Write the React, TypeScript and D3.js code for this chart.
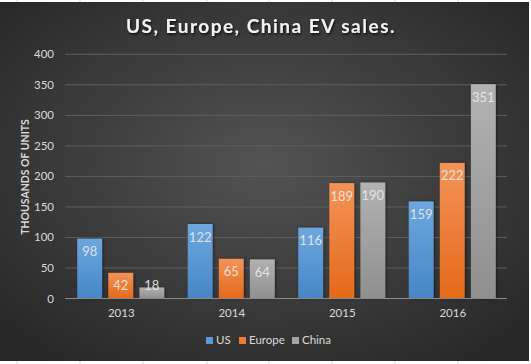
import React from 'react';
import * as d3 from 'd3';

const years = ['2013', '2014', '2015', '2016'];
const seriesNames = ['US', 'Europe', 'China'];
const usSales = [98, 122, 116, 159];
const europeSales = [42, 65, 189, 222];
const chinaSales = [18, 64, 190, 351];
const yTicks = [0, 50, 100, 150, 200, 250, 300, 350, 400];

const W = 531;
const H = 364;
const font = "Lato, 'Open Sans', 'Liberation Sans', sans-serif";

const gradients: { [k: string]: [string, string] } = {
  US: ['#6ea7de', '#4686c6'],
  Europe: ['#f39358', '#e5691a'],
  China: ['#b2b2b2', '#8f8f8f'],
};
const swatch: { [k: string]: string } = { US: '#5b9bd5', Europe: '#ed7d31', China: '#a5a5a5' };

const App = () => {
  const left = 65;
  const right = 507;
  const y = d3.scaleLinear().domain([0, 400]).range([298.5, 54.3]);
  const x0 = d3.scaleBand().domain(years).range([left, right]);
  const inner = 87;
  const off = (x0.bandwidth() - inner) / 2 + 0.5;
  const x1 = d3.scaleBand().domain(seriesNames).range([off, off + inner]).paddingInner(0.2);

  const values = [usSales, europeSales, chinaSales];

  return (
    <svg width={W} height={H} style={{ position: 'absolute', left: 0, top: 0 }}>
      <defs>
        <radialGradient id="bg" cx="50%" cy="45%" r="70%">
          <stop offset="0%" stopColor="#535353" />
          <stop offset="100%" stopColor="#262626" />
        </radialGradient>
        {seriesNames.map(s => (
          <linearGradient key={s} id={`g-${s}`} x1="0" y1="0" x2="0" y2="1">
            <stop offset="0%" stopColor={gradients[s][0]} />
            <stop offset="100%" stopColor={gradients[s][1]} />
          </linearGradient>
        ))}
        <filter id="ts" x="-10%" y="-30%" width="120%" height="160%">
          <feDropShadow dx="1" dy="1.5" stdDeviation="1.2" floodColor="#000" floodOpacity="0.8" />
        </filter>
        <filter id="bs" x="-20%" y="-10%" width="140%" height="120%">
          <feDropShadow dx="1" dy="0" stdDeviation="1.5" floodColor="#000" floodOpacity="0.5" />
        </filter>
      </defs>
      <rect x={0} y={0} width={W} height={H} fill="#fff" />
      {[17, 80, 143, 207, 269, 332, 395, 458].map(v => (
        <line key={v} x1={v} x2={v} y1={0} y2={H} stroke="#d4d4d4" />
      ))}
      <rect x={0} y={2} width={529} height={359} fill="url(#bg)" />

      <text x={261} y={33} textAnchor="middle" fill="#f2f2f2" fontFamily={font} fontWeight="bold"
        fontSize={19} letterSpacing={1.5} filter="url(#ts)">US, Europe, China EV sales.</text>

      {yTicks.map(t => (
        <g key={t}>
          {t > 0 && <line x1={left} x2={right} y1={y(t)} y2={y(t)} stroke="#5f5f5f" strokeWidth={1} />}
          <text x={54} y={y(t) + 4} textAnchor="end" fill="#d9d9d9" fontFamily={font} fontSize={11.5}>{t}</text>
        </g>
      ))}

      <text transform={`translate(29,${177}) rotate(-90)`} textAnchor="middle" fill="#d9d9d9"
        fontFamily={font} fontWeight="bold" fontSize={10.5}>THOUSANDS OF UNITS</text>

      {years.map((yr, i) => (
        <g key={yr} transform={`translate(${x0(yr)},0)`}>
          {seriesNames.map((s, j) => {
            const v = values[j][i];
            const bx = x1(s)!;
            const cy = Math.min(y(v) + 13, y(0) - 13);
            return (
              <g key={s}>
                <rect x={bx} y={y(v)} width={x1.bandwidth()} height={y(0) - y(v)}
                  fill={`url(#g-${s})`} filter="url(#bs)" />
                <text x={bx + x1.bandwidth() / 2} y={cy + 4.5} textAnchor="middle" fill="#ececec"
                  fillOpacity={0.9} fontFamily={font} fontSize={13}>{v}</text>
              </g>
            );
          })}
          <text x={x0.bandwidth() / 2 + 1} y={317} textAnchor="middle" fill="#d9d9d9" fontFamily={font} fontSize={11.5}>{yr}</text>
        </g>
      ))}
      <line x1={left} x2={right} y1={y(0)} y2={y(0)} stroke="#8a8a8a" strokeWidth={1} />

      {seriesNames.map((s, i) => {
        const lx = [206, 239, 292][i];
        return (
          <g key={s}>
            <rect x={lx} y={337} width={7} height={7} fill={swatch[s]} />
            <text x={lx + 10} y={344} fill="#d9d9d9" fontFamily={font} fontSize={11.5}>{s}</text>
          </g>
        );
      })}
    </svg>
  );
};

export default App;
